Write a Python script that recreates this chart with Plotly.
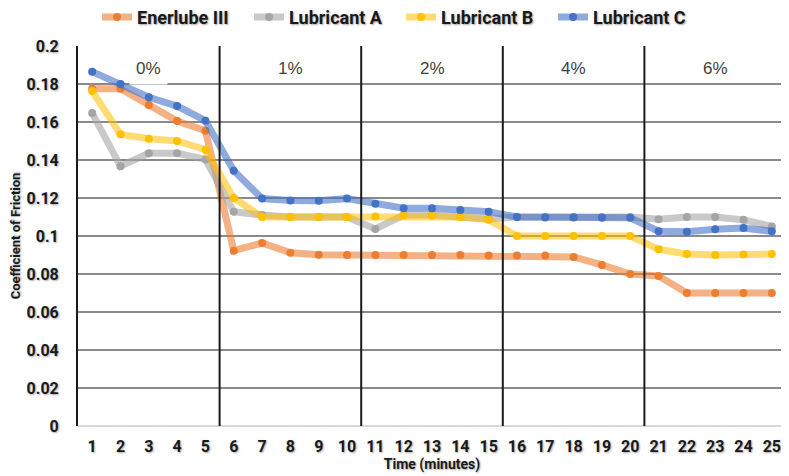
import plotly.graph_objects as go

minutes = list(range(1, 26))
enerlube = [0.1775, 0.1775, 0.169, 0.1605, 0.1554, 0.0923, 0.0963, 0.0912, 0.0901, 0.0900,
            0.0900, 0.0900, 0.0900, 0.0900, 0.0898, 0.0898, 0.0898, 0.0890, 0.0848, 0.0800,
            0.0790, 0.0700, 0.0700, 0.0700, 0.0700]
lub_a = [0.1647, 0.1367, 0.1435, 0.1435, 0.1403, 0.1128, 0.1110, 0.1100, 0.1100, 0.1100,
         0.1037, 0.1110, 0.1110, 0.1100, 0.1090, 0.1100, 0.1100, 0.1100, 0.1100, 0.1100,
         0.1088, 0.1100, 0.1100, 0.1085, 0.1050]
lub_b = [0.1763, 0.1535, 0.1512, 0.1500, 0.1454, 0.1200, 0.1100, 0.1100, 0.1100, 0.1100,
         0.1103, 0.1108, 0.1108, 0.1100, 0.1086, 0.1000, 0.1000, 0.1000, 0.1000, 0.1000,
         0.0930, 0.0905, 0.0900, 0.0902, 0.0905]
lub_c = [0.1865, 0.1800, 0.1730, 0.1684, 0.1607, 0.1344, 0.1197, 0.1187, 0.1186, 0.1197,
         0.1170, 0.1146, 0.1146, 0.1137, 0.1128, 0.1100, 0.1098, 0.1097, 0.1096, 0.1096,
         0.1025, 0.1022, 0.1035, 0.1042, 0.1025]

series_names = ["Enerlube III", "Lubricant A", "Lubricant B", "Lubricant C"]
line_colors = ["rgba(237,125,49,0.6)", "rgba(165,165,165,0.6)", "rgba(255,192,0,0.55)", "rgba(68,114,196,0.6)"]
marker_colors = ["#ED7D31", "#A5A5A5", "#FFC000", "#4472C4"]

section_labels = ["0%", "1%", "2%", "4%", "6%"]
section_centers = [3, 8, 13, 18, 23]
section_bounds = [5.5, 10.5, 15.5, 20.5, 25.5]

y_ticks = [0, 0.02, 0.04, 0.06, 0.08, 0.1, 0.12, 0.14, 0.16, 0.18, 0.2]
y_ticktext = ["0", "0.02", "0.04", "0.06", "0.08", "0.1", "0.12", "0.14", "0.16", "0.18", "0.2"]

FONT = "Roboto, Inter, DejaVu Sans, sans-serif"
SHADOW = "1px 1px 2px rgba(0,0,0,0.35)"

fig = go.Figure()
for name, vals, lc, mc in zip(series_names, [enerlube, lub_a, lub_b, lub_c], line_colors, marker_colors):
    fig.add_trace(go.Scatter(
        x=minutes, y=vals, name=name, mode="lines+markers",
        line=dict(color=lc, width=7),
        marker=dict(color=mc, size=8),
    ))

for xb in section_bounds:
    fig.add_shape(type="line", x0=xb, x1=xb, y0=0, y1=0.2, xref="x", yref="y",
                  line=dict(color="#1a1a1a", width=2), layer="above")

for i, (lab, xc) in enumerate(zip(section_labels, section_centers)):
    fig.add_annotation(x=xc, y=0.1884, text=lab, showarrow=False, xref="x", yref="y",
                       font=dict(family="Liberation Sans, Arial, sans-serif", size=17, color="#404040"),
                       bgcolor="white" if i == 0 else None, borderpad=6)

# page has an 8px body margin: figure is shifted by 8px, so shrink it accordingly
fig.update_layout(
    width=781, height=468,
    margin=dict(l=70, r=3, t=38, b=50, autoexpand=False),
    paper_bgcolor="white", plot_bgcolor="white",
    font=dict(family=FONT, color="#1a1a1a"),
    legend=dict(orientation="h", xref="container", x=0.114, xanchor="left",
                yref="container", y=0.98, yanchor="middle",
                font=dict(family=FONT, size=18, color="#1a1a1a", weight="bold", shadow=SHADOW),
                traceorder="normal", itemwidth=30, entrywidth=107, tracegroupgap=0),
    xaxis=dict(range=[0.5, 25.5], tickmode="array", tickvals=minutes,
               ticktext=[str(m) for m in minutes], showgrid=False, zeroline=False,
               showline=False, ticks="", automargin=False, ticklabelstandoff=9,
               tickfont=dict(family=FONT, size=16, color="#1a1a1a", weight="bold", shadow=SHADOW),
               title=dict(text="Time (minutes)", font=dict(family=FONT, size=14, weight="bold", shadow=SHADOW), standoff=4)),
    yaxis=dict(range=[0, 0.2], tickmode="array", tickvals=y_ticks, ticktext=y_ticktext,
               showgrid=True, gridcolor="#8a8a8a", gridwidth=1.5,
               zeroline=True, zerolinecolor="#d9d9d9", zerolinewidth=2,
               showline=True, linecolor="#1a1a1a", linewidth=2, ticks="", automargin=False,
               ticklabelstandoff=14,
               tickfont=dict(family=FONT, size=16, color="#1a1a1a", weight="bold", shadow=SHADOW),
               title=dict(text="Coefficient of Friction", font=dict(family=FONT, size=13, weight="bold", shadow=SHADOW), standoff=8)),
)

fig.write_html("out.html")
